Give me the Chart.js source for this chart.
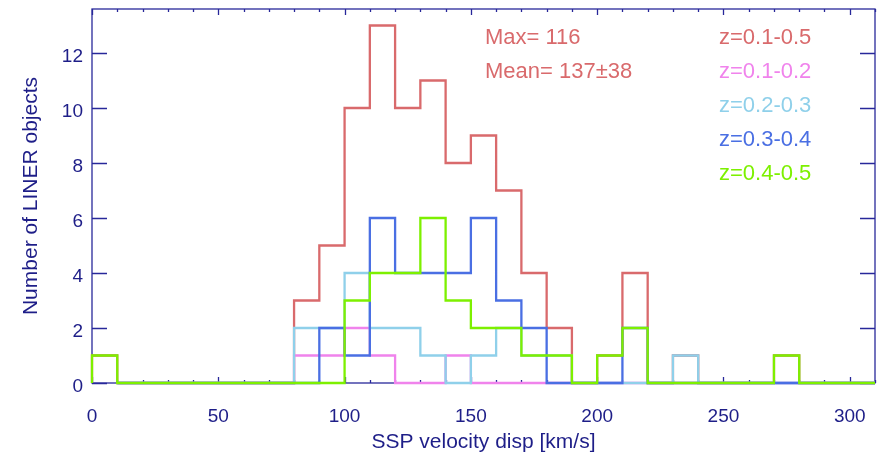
<!DOCTYPE html>
<html>
<head>
<meta charset="utf-8">
<script src="https://cdn.jsdelivr.net/npm/chart.js@4.4.0/dist/chart.umd.min.js"></script>
<style>
    html, body { margin: 0; padding: 0; background: #fff; }
</style>
</head>
<body>
<canvas id="histChart" width="884" height="460"></canvas>
<script>
// left edge of each 10 km/s bin
const binWidth = 10;
const binEdges = [0, 10, 20, 30, 40, 50, 60, 70, 80, 90, 100, 110, 120, 130, 140, 150,
                  160, 170, 180, 190, 200, 210, 220, 230, 240, 250, 260, 270, 280, 290, 300];

// counts per bin (null = series not drawn there)
const countsAll  = [1, 0, 0, 0, 0, 0, 0, 0, 3, 5, 10, 13, 10, 11, 8, 9, 7, 4, 2, 0, 1, 4, 0, 1, 0, 0, 0, 1, 0, 0, 0];
const countsZ12  = [null, 0, 0, 0, 0, 0, 0, 0, 1, 1, 2, 1, 0, 0, 1, 0, 0, 0, 0, 0, 0, 0, 0, 0, 0, 0, 0, 0, 0, 0, 0];
const countsZ23  = [null, 0, 0, 0, 0, 0, 0, 0, 2, 2, 4, 2, 2, 1, 0, 1, 2, 1, 1, 0, 0, 0, 0, 1, 0, 0, 0, 0, 0, 0, 0];
const countsZ34  = [null, 0, 0, 0, 0, 0, 0, 0, 0, 2, 1, 6, 4, 4, 4, 6, 3, 2, 0, 0, 0, 2, 0, 0, 0, 0, 0, 0, 0, 0, 0];
const countsZ45  = [1, 0, 0, 0, 0, 0, 0, 0, 0, 0, 3, 4, 4, 6, 3, 2, 2, 1, 1, 0, 1, 2, 0, 0, 0, 0, 0, 1, 0, 0, 0];

const seriesLabels = ['z=0.1-0.5', 'z=0.1-0.2', 'z=0.2-0.3', 'z=0.3-0.4', 'z=0.4-0.5'];
const seriesColors = ['#d96a6c', '#f083ec', '#8fd0ea', '#4a6fe3', '#7df000'];
const statLines = ['Max= 116', 'Mean= 137\u00b138'];

const yTicks = [0, 2, 4, 6, 8, 10, 12];

const axisColor = '#28289a';
const textColor = '#1e1e88';
const fontFamily = '"Liberation Sans", Arial, Helvetica, sans-serif';

function toSteps(counts) {
    const pts = [{ x: binEdges[0], y: 0 }];
    counts.forEach((c, i) => pts.push({ x: binEdges[i], y: c }));
    const last = counts.length - 1;
    pts.push({ x: binEdges[last] + binWidth, y: counts[last] });
    return pts;
}

function makeSet(counts, idx) {
    return {
        label: seriesLabels[idx],
        data: toSteps(counts),
        borderColor: seriesColors[idx],
        borderWidth: 2.3,
        stepped: true,
        pointRadius: 0,
        fill: false,
        spanGaps: false,
        clip: false,
        order: 5 - idx
    };
}

const frameTicks = {
    id: 'frameTicks',
    beforeDatasetsDraw(chart) {
        const { ctx, chartArea: a, scales: { x, y } } = chart;
        ctx.save();
        ctx.strokeStyle = axisColor;
        ctx.lineWidth = 1.3;
        ctx.strokeRect(a.left, a.top, a.right - a.left, a.bottom - a.top);
        ctx.beginPath();
        for (let v = x.min; v <= x.max; v += binWidth) {
            const px = Math.round(x.getPixelForValue(v)) + 0.5;
            const len = v % 50 === 0 ? 6 : 3;
            ctx.moveTo(px, a.bottom); ctx.lineTo(px, a.bottom - len);
            ctx.moveTo(px, a.top); ctx.lineTo(px, a.top + len);
        }
        yTicks.forEach(v => {
            const py = Math.round(y.getPixelForValue(v)) + 0.5;
            ctx.moveTo(a.left, py); ctx.lineTo(a.left + 15, py);
            ctx.moveTo(a.right, py); ctx.lineTo(a.right - 15, py);
        });
        ctx.stroke();
        ctx.restore();
    },
    afterDraw(chart) {
        const ctx = chart.ctx;
        ctx.save();
        ctx.font = '22px ' + fontFamily;
        ctx.textBaseline = 'middle';
        ctx.textAlign = 'left';
        ctx.fillStyle = seriesColors[0];
        statLines.forEach((t, i) => ctx.fillText(t, 485, 38 + i * 34));
        seriesLabels.forEach((t, i) => {
            ctx.fillStyle = seriesColors[i];
            ctx.fillText(t, 719, 38 + i * 34);
        });
        ctx.restore();
    }
};

const ctx = document.getElementById('histChart').getContext('2d');
const histChart = new Chart(ctx, {
    type: 'line',
    data: {
        datasets: [
            makeSet(countsAll, 0),
            makeSet(countsZ12, 1),
            makeSet(countsZ23, 2),
            makeSet(countsZ34, 3),
            makeSet(countsZ45, 4)
        ]
    },
    options: {
        responsive: false,
        animation: false,
        devicePixelRatio: 1,
        layout: { padding: { top: 9, right: 9, left: 0, bottom: 0 } },
        plugins: {
            legend: { display: false },
            tooltip: { enabled: false }
        },
        scales: {
            x: {
                type: 'linear',
                min: 0,
                max: 310,
                grid: { display: false, drawTicks: false },
                border: { display: false },
                ticks: {
                    stepSize: 50,
                    includeBounds: false,
                    maxRotation: 0,
                    padding: 22,
                    color: textColor,
                    font: { family: fontFamily, size: 19 }
                },
                title: {
                    display: true,
                    text: 'SSP velocity disp [km/s]',
                    color: textColor,
                    font: { family: fontFamily, size: 21 },
                    padding: { top: 4, bottom: 5 }
                },
                afterFit(scale) {
                    scale.height = 77;
                    scale.paddingLeft = 0;
                    scale.paddingRight = 0;
                }
            },
            y: {
                min: 0,
                max: 13.6,
                grid: { display: false, drawTicks: false },
                border: { display: false },
                ticks: {
                    stepSize: 2,
                    includeBounds: false,
                    padding: 9,
                    labelOffset: 4,
                    color: textColor,
                    font: { family: fontFamily, size: 19 }
                },
                title: {
                    display: true,
                    text: 'Number of LINER objects',
                    color: textColor,
                    font: { family: fontFamily, size: 21 },
                    padding: { top: 19, bottom: 0 }
                },
                afterFit(scale) {
                    scale.width = 92;
                    scale.paddingTop = 0;
                    scale.paddingBottom = 0;
                }
            }
        }
    },
    plugins: [frameTicks]
});
</script>
</body>
</html>
